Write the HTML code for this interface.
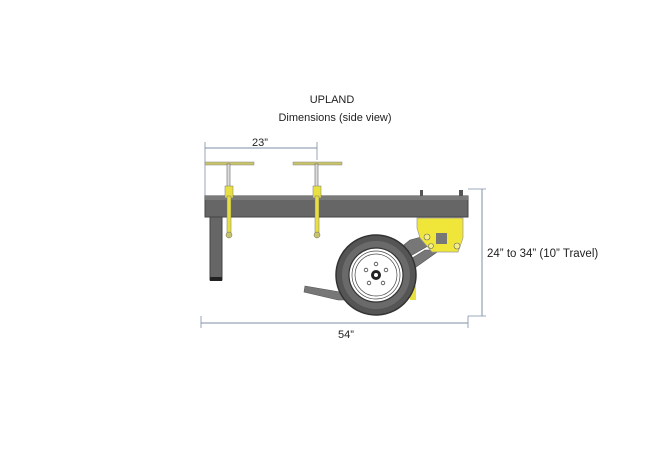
<!DOCTYPE html>
<html><head><style>
html,body{margin:0;padding:0;background:#fff;}
svg{display:block;}
text{font-family:"Liberation Sans",sans-serif;fill:#222;}
</style></head><body>
<svg width="650" height="466" viewBox="0 0 650 466" xmlns="http://www.w3.org/2000/svg">
<text x="332" y="103" font-size="11" text-anchor="middle">UPLAND</text>
<text x="335" y="121" font-size="11" text-anchor="middle">Dimensions (side view)</text>
<line x1="205" y1="142" x2="205" y2="196" stroke="#7f8fa6" stroke-width="0.8"/>
<line x1="317" y1="142" x2="317" y2="160" stroke="#7f8fa6" stroke-width="0.8"/>
<line x1="205" y1="148" x2="317" y2="148" stroke="#7f8fa6" stroke-width="1"/>
<text x="260" y="146" font-size="11" text-anchor="middle">23”</text>
<rect x="205" y="196" width="263" height="21" fill="#666" stroke="#444" stroke-width="1"/>
<rect x="205" y="196" width="263" height="4" fill="#7a7a7a"/>
<rect x="210" y="217" width="12" height="63" fill="#666" stroke="#444" stroke-width="1"/>
<rect x="210" y="277" width="12" height="4" fill="#222"/>
<rect x="420" y="190" width="3" height="6" fill="#555"/>
<rect x="459" y="190" width="4" height="6" fill="#555"/>
<g>
<rect x="205" y="162" width="49" height="3" fill="#c9c36a" stroke="#888" stroke-width="0.5"/>
<rect x="227" y="164" width="3" height="24" fill="#ddd" stroke="#666" stroke-width="0.6"/>
<rect x="225" y="186" width="8" height="12" fill="#e8e040" stroke="#777" stroke-width="0.5"/>
<rect x="227" y="196" width="4" height="38" fill="#e8e040" stroke="#777" stroke-width="0.5"/>
<circle cx="229" cy="235" r="3" fill="#c9c36a" stroke="#666" stroke-width="0.5"/>
</g>
<g>
<rect x="293" y="162" width="49" height="3" fill="#c9c36a" stroke="#888" stroke-width="0.5"/>
<rect x="315" y="164" width="3" height="24" fill="#ddd" stroke="#666" stroke-width="0.6"/>
<rect x="313" y="186" width="8" height="12" fill="#e8e040" stroke="#777" stroke-width="0.5"/>
<rect x="315" y="196" width="4" height="38" fill="#e8e040" stroke="#777" stroke-width="0.5"/>
<circle cx="317" cy="235" r="3" fill="#c9c36a" stroke="#666" stroke-width="0.5"/>
</g>
<polygon points="410,240 425,236 428,246 400,262 395,252" fill="#777" stroke="#555" stroke-width="0.6"/>
<polygon points="425,250 440,250 412,270 406,262" fill="#777" stroke="#555" stroke-width="0.6"/>
<polygon points="417,218 463,218 463,238 458,252 432,252 420,238 417,228" fill="#f0e63a" stroke="#999" stroke-width="0.7"/>
<rect x="436" y="233" width="11" height="11" fill="#777"/>
<circle cx="427" cy="237" r="3" fill="#f5ee80" stroke="#666" stroke-width="0.6"/>
<circle cx="457" cy="246" r="3" fill="#f5ee80" stroke="#666" stroke-width="0.6"/>
<circle cx="431" cy="246" r="2.5" fill="#f5ee80" stroke="#666" stroke-width="0.6"/>
<polygon points="305,286 340,292 345,300 338,300 304,292" fill="#777" stroke="#555" stroke-width="0.6"/>
<rect x="410" y="286" width="6" height="14" fill="#e8e040"/>
<circle cx="376" cy="275" r="40" fill="#555" stroke="#333" stroke-width="1.5"/>
<circle cx="376" cy="275" r="34" fill="#6a6a6a"/>
<circle cx="376" cy="275" r="27" fill="#fff" stroke="#333" stroke-width="1.2"/>
<circle cx="376" cy="275" r="24" fill="none" stroke="#444" stroke-width="0.7"/>
<circle cx="376" cy="275" r="21" fill="none" stroke="#444" stroke-width="0.7"/>
<circle cx="376" cy="275" r="5" fill="#222"/>
<circle cx="376" cy="275" r="2" fill="#fff"/>
<g fill="none" stroke="#444" stroke-width="0.8">
<circle cx="376" cy="264" r="1.8"/><circle cx="386" cy="270" r="1.8"/><circle cx="383" cy="283" r="1.8"/>
<circle cx="369" cy="283" r="1.8"/><circle cx="366" cy="270" r="1.8"/></g>
<line x1="468" y1="189" x2="486" y2="189" stroke="#7f8fa6" stroke-width="0.8"/>
<line x1="468" y1="316" x2="486" y2="316" stroke="#7f8fa6" stroke-width="0.8"/>
<line x1="482" y1="189" x2="482" y2="316" stroke="#7f8fa6" stroke-width="1"/>
<text x="487" y="257" font-size="11.5">24” to 34” (10” Travel)</text>
<line x1="201" y1="316" x2="201" y2="328" stroke="#7f8fa6" stroke-width="0.8"/>
<line x1="468" y1="316" x2="468" y2="328" stroke="#7f8fa6" stroke-width="0.8"/>
<line x1="201" y1="323" x2="468" y2="323" stroke="#7f8fa6" stroke-width="1"/>
<text x="346" y="338" font-size="11" text-anchor="middle">54”</text>
</svg>
</body></html>
